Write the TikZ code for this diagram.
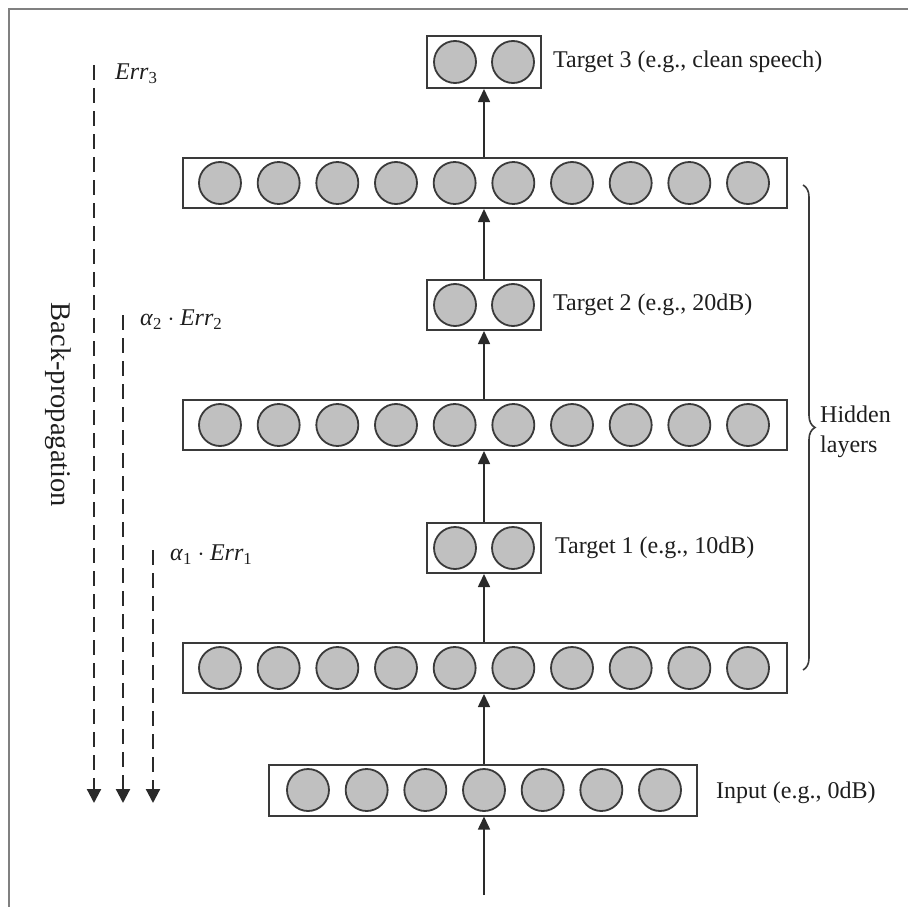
\documentclass[tikz,border=0pt]{standalone}
\usepackage{fontspec}
\setmainfont{Liberation Serif}
\usetikzlibrary{arrows.meta,decorations.pathreplacing}
\definecolor{framec}{HTML}{808080}
\definecolor{boxc}{HTML}{3A3A3A}
\definecolor{neuf}{HTML}{C0C0C0}
\definecolor{linec}{HTML}{2A2A2A}
\definecolor{txtc}{HTML}{1E1E1E}
\begin{document}
\begin{tikzpicture}[x=1pt,y=-1pt,
  layerbox/.style={draw=boxc, line width=2pt, fill=white, minimum height=50pt, inner sep=0pt},
  neuron/.style={circle, draw=boxc, fill=neuf, line width=1.8pt, minimum size=42pt, inner sep=0pt},
  uparrow/.style={draw=linec, line width=1.6pt, -{Triangle[length=13pt,width=12pt]}},
  bparrow/.style={draw=linec, line width=2.2pt, dash pattern=on 15pt off 8pt, -{Triangle[length=14pt,width=14pt]}},
  lbl/.style={font=\fontsize{24}{28}\selectfont, text=txtc, anchor=west, inner sep=0pt},
]
\useasboundingbox (0,0) rectangle (908,907);
% frame
\draw[framec, line width=2pt] (9,907) -- (9,9) -- (908,9);

% layer boxes
\node[layerbox, minimum width=604pt] (H3) at (485,183) {};
\node[layerbox, minimum width=604pt] (H2) at (485,425) {};
\node[layerbox, minimum width=604pt] (H1) at (485,668) {};
\node[layerbox, minimum width=114pt, minimum height=52pt] (T3) at (484,62) {};
\node[layerbox, minimum width=114pt] (T2) at (484,305) {};
\node[layerbox, minimum width=114pt] (T1) at (484,548) {};
\node[layerbox, minimum width=428pt, minimum height=51pt] (In) at (483,790) {};

% neurons
\foreach \i in {0,...,9} {
  \node[neuron] (h3n\i) at ({484+(\i-4.5)*58.67},183) {};
  \node[neuron] (h2n\i) at ({484+(\i-4.5)*58.67},425) {};
  \node[neuron] (h1n\i) at ({484+(\i-4.5)*58.67},668) {};
}
\foreach \i in {0,...,6} {
  \node[neuron] (inn\i) at ({484+(\i-3)*58.67},790) {};
}
\foreach \i/\o in {0/-29,1/29} {
  \node[neuron] (t3n\i) at ({484+\o},62) {};
  \node[neuron] (t2n\i) at ({484+\o},305) {};
  \node[neuron] (t1n\i) at ({484+\o},548) {};
}

% forward arrows
\coordinate (src) at (484,895);
\draw[uparrow] (src) -- (src |- In.south);
\draw[uparrow] (src |- In.north) -- (src |- H1.south);
\draw[uparrow] (src |- H1.north) -- (src |- T1.south);
\draw[uparrow] (src |- T1.north) -- (src |- H2.south);
\draw[uparrow] (src |- H2.north) -- (src |- T2.south);
\draw[uparrow] (src |- T2.north) -- (src |- H3.south);
\draw[uparrow] (src |- H3.north) -- (src |- T3.south);

% labels
\node[lbl] (lt3) at (553,62) {Target 3 (e.g., clean speech)};
\node[lbl] (lt2) at (553,305) {Target 2 (e.g., 20dB)};
\node[lbl] (lt1) at (555,548) {Target 1 (e.g., 10dB)};
\node[lbl] (lin) at (716,793) {Input (e.g., 0dB)};

% brace
\coordinate (bt) at (803,185);
\coordinate (bb) at (803,670);
\draw[boxc, line width=1.6pt, decorate, decoration={brace, amplitude=12pt}] (bt) -- (bb);
\node[lbl, align=left, font=\fontsize{24}{30}\selectfont] (hl) at (820,432) {Hidden\\layers};

% back-propagation
\coordinate (e3s) at (94,65);   \coordinate (e3t) at (94,803);
\coordinate (e2s) at (123,315); \coordinate (e2t) at (123,803);
\coordinate (e1s) at (153,550); \coordinate (e1t) at (153,803);
\draw[bparrow] (e3s) -- (e3t);
\draw[bparrow] (e2s) -- (e2t);
\draw[bparrow] (e1s) -- (e1t);

\node[lbl] (err3) at (115,74) {$\mathit{Err}_{\mathrm{3}}$};
\node[lbl] (err2) at (140,320) {\textit{α}$_{\mathrm{2}}\cdot\mathit{Err}_{\mathrm{2}}$};
\node[lbl] (err1) at (170,555) {\textit{α}$_{\mathrm{1}}\cdot\mathit{Err}_{\mathrm{1}}$};

\node[font=\fontsize{28.5}{30}\selectfont, text=txtc, rotate=-90, inner sep=0pt] (bp) at (58,405) {Back-propagation};
\end{tikzpicture}
\end{document}
